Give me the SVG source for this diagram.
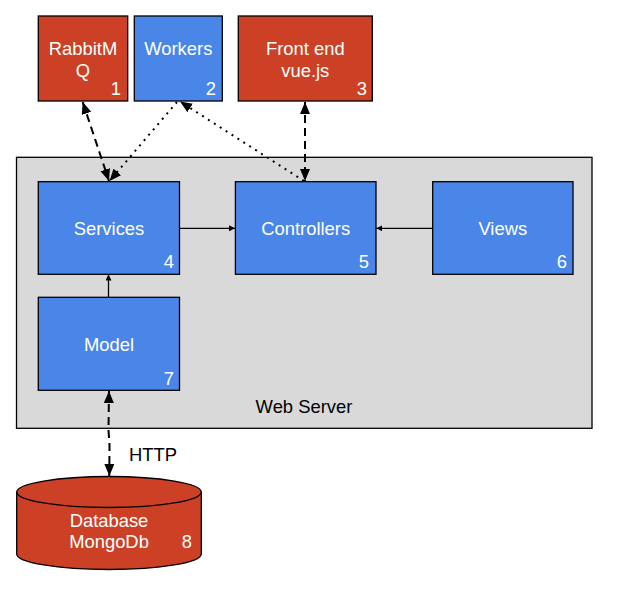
<svg xmlns="http://www.w3.org/2000/svg" width="617" height="593" viewBox="0 0 617 593">
<style>
.red{fill:#cc4125;stroke:#000;stroke-width:1.3}
.blue{fill:#4a86e8;stroke:#000;stroke-width:1.3}
.t{font-family:"Liberation Sans",Arial,sans-serif;font-size:18.4px;fill:#fff;text-anchor:middle}
.n{font-family:"Liberation Sans",Arial,sans-serif;font-size:18.4px;fill:#fff;text-anchor:end}
.k{font-family:"Liberation Sans",Arial,sans-serif;font-size:18.4px;fill:#000;text-anchor:middle}
.dash{fill:none;stroke:#000;stroke-width:2;stroke-dasharray:8 5}
.dot{fill:none;stroke:#000;stroke-width:2;stroke-dasharray:2 5}
.sol{fill:none;stroke:#000;stroke-width:1.3}
</style>
<defs>
<marker id="big" markerUnits="userSpaceOnUse" markerWidth="14" markerHeight="12" refX="12" refY="5" orient="auto-start-reverse" viewBox="0 0 14 12">
<path d="M0,0 L12,5 L0,10 z" fill="#000"/>
</marker>
<marker id="small" markerUnits="userSpaceOnUse" markerWidth="8" markerHeight="6" refX="6" refY="3" orient="auto" viewBox="0 0 8 6">
<path d="M0,0 L6,3 L0,6 z" fill="#000"/>
</marker>
</defs>
<rect width="617" height="593" fill="#fff"/>
<g id="webserver">
<rect x="16.5" y="157.3" width="575.5" height="271" fill="#d9d9d9" stroke="#000" stroke-width="1.3"/>
<text class="k" x="304" y="413">Web Server</text>
</g>
<g id="rabbitmq">
<rect class="red" x="38.3" y="16" width="89.4" height="85"/>
<text class="t" x="83" y="55">RabbitM</text>
<text class="t" x="83" y="77">Q</text>
<text class="n" x="121" y="95">1</text>
</g>
<g id="workers">
<rect class="blue" x="134.3" y="16" width="88" height="85"/>
<text class="t" x="178.3" y="55">Workers</text>
<text class="n" x="216" y="95">2</text>
</g>
<g id="frontend">
<rect class="red" x="238.3" y="16" width="134" height="85"/>
<text class="t" x="305.3" y="55">Front end</text>
<text class="t" x="305.3" y="77">vue.js</text>
<text class="n" x="367" y="95">3</text>
</g>
<g id="services">
<rect class="blue" x="38.3" y="181.7" width="141.2" height="92.6"/>
<text class="t" x="109" y="235">Services</text>
<text class="n" x="174" y="268">4</text>
</g>
<g id="controllers">
<rect class="blue" x="235.4" y="181.7" width="140.6" height="92.6"/>
<text class="t" x="305.7" y="235">Controllers</text>
<text class="n" x="369" y="268">5</text>
</g>
<g id="views">
<rect class="blue" x="432.7" y="181.7" width="140.3" height="92.6"/>
<text class="t" x="502.8" y="235">Views</text>
<text class="n" x="567" y="268">6</text>
</g>
<g id="model">
<rect class="blue" x="38.3" y="297.3" width="141.2" height="93"/>
<text class="t" x="109" y="351">Model</text>
<text class="n" x="174" y="385">7</text>
</g>
<g id="database">
<path d="M16.7,492 A92.3,15.5 0 0 1 201.3,492 V554 A92.3,15.5 0 0 1 16.7,554 Z" fill="#cc4125" stroke="#000" stroke-width="1.3"/>
<path d="M16.7,492 A92.3,15.5 0 0 0 201.3,492" fill="none" stroke="#000" stroke-width="1.3"/>
<text class="t" x="109" y="527">Database</text>
<text class="t" x="109" y="548">MongoDb</text>
<text class="n" x="192" y="548">8</text>
</g>
<g id="connectors">
<line class="dash" x1="82.7" y1="102" x2="109" y2="181" marker-start="url(#big)" marker-end="url(#big)"/>
<line class="dot" x1="177" y1="102" x2="109.5" y2="181" marker-end="url(#big)"/>
<line class="dot" x1="304" y1="181" x2="180" y2="101.5" marker-end="url(#big)"/>
<line class="dash" x1="305" y1="102" x2="305" y2="181" marker-start="url(#big)" marker-end="url(#big)"/>
<line class="sol" x1="179.5" y1="228.3" x2="235" y2="228.3" marker-end="url(#small)"/>
<line class="sol" x1="432.7" y1="228.3" x2="376.3" y2="228.3" marker-end="url(#small)"/>
<line class="sol" x1="108.5" y1="297.3" x2="108.5" y2="274.6" marker-end="url(#small)"/>
<path class="dash" d="M109,391 L108.5,430 L109.5,445 L109.3,476" marker-start="url(#big)" marker-end="url(#big)"/>
<text class="k" x="153" y="461" style="fill:#000">HTTP</text>
</g>
</svg>
